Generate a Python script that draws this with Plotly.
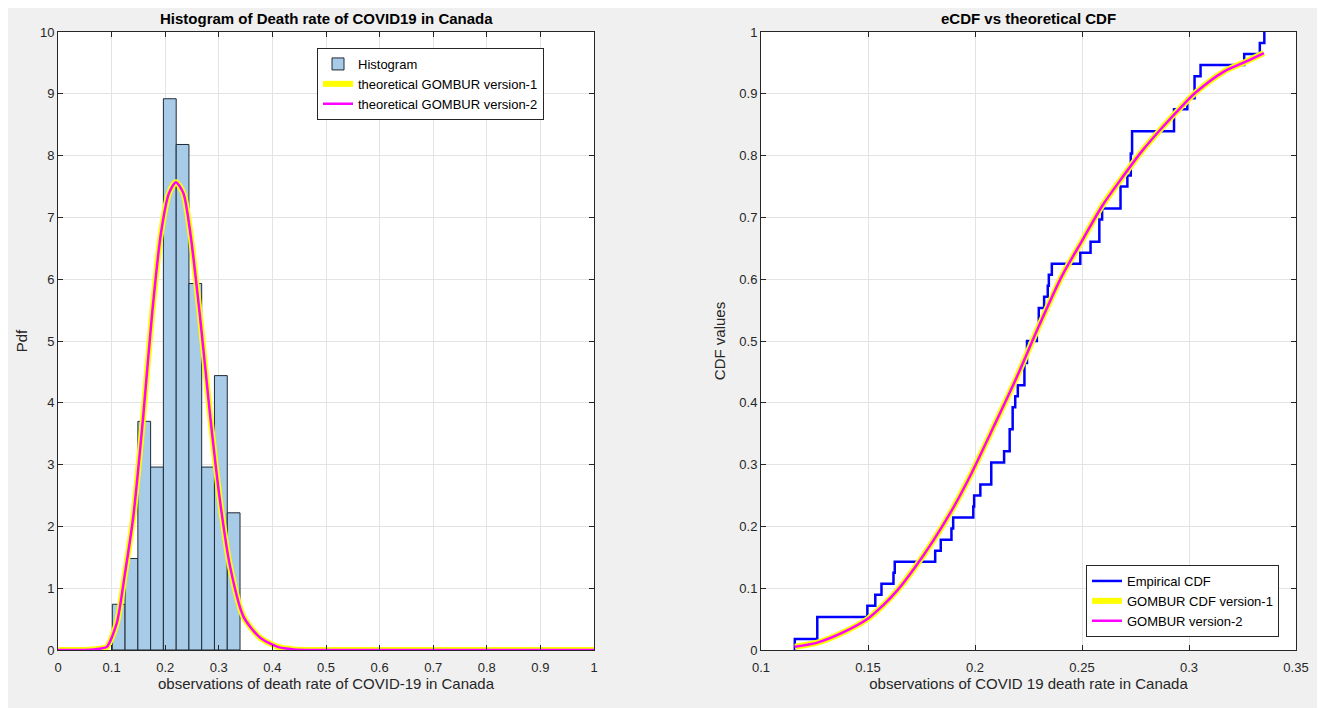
import plotly.graph_objects as go

# ---------------- data ----------------
# Histogram (pdf-normalised) of death rate
bin_edges = [0.1013, 0.1251, 0.1490, 0.1728, 0.1966, 0.2205, 0.2443, 0.2681, 0.2919, 0.3158, 0.3396]
bin_heights = [0.74, 1.48, 3.70, 2.96, 8.92, 8.18, 5.93, 2.96, 4.44, 2.22]

# theoretical pdf curve
pdf_x = [0.0, 0.05, 0.078, 0.091, 0.1095, 0.125, 0.1405, 0.159, 0.175, 0.192, 0.207,
         0.220, 0.234, 0.247, 0.265, 0.284, 0.302, 0.321, 0.346, 0.377, 0.41, 0.44, 0.48, 0.6, 0.8, 1.0]
pdf_y = [0.0, 0.0, 0.02, 0.05, 0.43, 1.24, 2.16, 3.78, 5.39, 6.74, 7.39,
         7.57, 7.39, 6.74, 5.39, 3.78, 2.43, 1.35, 0.54, 0.20, 0.05, 0.01, 0.0, 0.0, 0.0, 0.0]

# empirical CDF step points (x, y after jump)
ecdf_x = [0.1158, 0.1158, 0.1263, 0.1497, 0.1534, 0.1563, 0.1619, 0.1625, 0.1814, 0.1840,
          0.1890, 0.1898, 0.1992, 0.1996, 0.2025, 0.2076, 0.2136, 0.2162, 0.2176, 0.2188,
          0.2200, 0.2231, 0.2243, 0.2289, 0.2298, 0.2323, 0.2340, 0.2345, 0.2359, 0.2492,
          0.2540, 0.2581, 0.2594, 0.2680, 0.2712, 0.2728, 0.2734, 0.2930, 0.2992, 0.3026,
          0.3054, 0.3258, 0.3331, 0.3352]
ecdf_y = [0.0, 0.0179, 0.0536, 0.0714, 0.0893, 0.1071, 0.1250, 0.1429, 0.1607, 0.1786,
          0.1964, 0.2143, 0.2321, 0.2500, 0.2679, 0.3036, 0.3214, 0.3571, 0.3929, 0.4107,
          0.4286, 0.4643, 0.5000, 0.5179, 0.5536, 0.5714, 0.5893, 0.6071, 0.6250, 0.6429,
          0.6607, 0.6964, 0.7143, 0.7500, 0.7679, 0.8036, 0.8393, 0.8750, 0.8929, 0.9286,
          0.9464, 0.9643, 0.9821, 1.0000]

# theoretical CDF curve
cdf_x = [0.1158, 0.1263, 0.1381, 0.1497, 0.1568, 0.1636, 0.1720, 0.1805, 0.1890, 0.1975,
         0.2088, 0.2197, 0.2297, 0.2406, 0.2500, 0.2594, 0.2688, 0.2781, 0.2875, 0.2969,
         0.3031, 0.3163, 0.3265, 0.3350]
cdf_y = [0.0054, 0.012, 0.028, 0.050, 0.0715, 0.096, 0.134, 0.177, 0.225, 0.280,
         0.362, 0.443, 0.523, 0.605, 0.662, 0.7185, 0.7645, 0.8076, 0.8455, 0.8806,
         0.902, 0.936, 0.952, 0.966]

left_xticks = [0, 0.1, 0.2, 0.3, 0.4, 0.5, 0.6, 0.7, 0.8, 0.9, 1]
left_yticks = list(range(0, 11))
right_xticks = [0.1, 0.15, 0.2, 0.25, 0.3, 0.35]
right_yticks = [0, 0.1, 0.2, 0.3, 0.4, 0.5, 0.6, 0.7, 0.8, 0.9, 1]

# ---------------- figure ----------------
FONT = "Liberation Sans, Arial, sans-serif"
TXT = "#262626"
GRID = "#e3e3e3"

bin_centers = [(a + b) / 2 for a, b in zip(bin_edges[:-1], bin_edges[1:])]
bin_widths = [b - a for a, b in zip(bin_edges[:-1], bin_edges[1:])]

fig = go.Figure()

fig.add_trace(go.Bar(
    x=bin_centers, y=bin_heights, width=bin_widths, name="Histogram",
    marker=dict(color="#a8cce8", line=dict(color="#1f2a36", width=1)),
    xaxis="x", yaxis="y", legend="legend",
))
fig.add_trace(go.Scatter(
    x=pdf_x, y=pdf_y, mode="lines", name="theoretical GOMBUR version-1",
    line=dict(color="#ffff00", width=6, shape="spline", smoothing=0.7),
    xaxis="x", yaxis="y", legend="legend",
))
fig.add_trace(go.Scatter(
    x=pdf_x, y=pdf_y, mode="lines", name="theoretical GOMBUR version-2",
    line=dict(color="#ff00ff", width=2.5, shape="spline", smoothing=0.7),
    xaxis="x", yaxis="y", legend="legend",
))

fig.add_trace(go.Scatter(
    x=ecdf_x, y=ecdf_y, mode="lines", name="Empirical CDF",
    line=dict(color="#0000ff", width=2.5, shape="hv"),
    xaxis="x2", yaxis="y2", legend="legend2",
))
fig.add_trace(go.Scatter(
    x=cdf_x, y=cdf_y, mode="lines", name="GOMBUR CDF version-1",
    line=dict(color="#ffff00", width=6, shape="spline", smoothing=0.8),
    xaxis="x2", yaxis="y2", legend="legend2",
))
fig.add_trace(go.Scatter(
    x=cdf_x, y=cdf_y, mode="lines", name="GOMBUR version-2",
    line=dict(color="#ff00ff", width=2.5, shape="spline", smoothing=0.8),
    xaxis="x2", yaxis="y2", legend="legend2",
))

W, H = 1325, 708
OFF = 8  # page body margin offset


def px_x(p):
    return (p - OFF) / W


def px_y(p):
    return 1 - (p - OFF) / H


ydom = [px_y(650), px_y(32)]

axis_common = dict(
    showgrid=True, gridcolor=GRID, gridwidth=1,
    showline=True, linecolor=TXT, linewidth=1, mirror="ticks",
    ticks="inside", ticklen=5, tickcolor=TXT,
    tickfont=dict(family=FONT, size=13, color=TXT),
    zeroline=False, automargin=False,
)

fig.update_layout(
    width=W, height=H,
    margin=dict(l=0, r=0, t=0, b=0),
    paper_bgcolor="#f0f0f0", plot_bgcolor="#ffffff",
    font=dict(family=FONT, color=TXT),
    barmode="overlay",
    xaxis=dict(axis_common, domain=[px_x(58), px_x(594)], range=[0, 1],
               tickvals=left_xticks, ticktext=[f"{v:g}" for v in left_xticks],
               anchor="y", ticklabelstandoff=5,
               title=dict(text="observations of death rate of COVID-19 in Canada",
                          font=dict(family=FONT, size=15, color=TXT), standoff=3)),
    yaxis=dict(axis_common, domain=ydom, range=[0, 10],
               tickvals=left_yticks, ticktext=[str(v) for v in left_yticks],
               anchor="x",
               title=dict(text="Pdf", font=dict(family=FONT, size=15, color=TXT), standoff=8)),
    xaxis2=dict(axis_common, domain=[px_x(761), px_x(1296)], range=[0.1, 0.35],
                tickvals=right_xticks, ticktext=[f"{v:g}" for v in right_xticks],
                anchor="y2", ticklabelstandoff=5,
                title=dict(text="observations of COVID 19 death rate in Canada",
                           font=dict(family=FONT, size=15, color=TXT), standoff=3)),
    yaxis2=dict(axis_common, domain=ydom, range=[0, 1],
                tickvals=right_yticks, ticktext=[f"{v:g}" for v in right_yticks],
                anchor="x2",
                title=dict(text="CDF values", font=dict(family=FONT, size=15, color=TXT), standoff=10)),
    legend=dict(x=px_x(317), y=px_y(48), xanchor="left", yanchor="top",
                bgcolor="#ffffff", bordercolor=TXT, borderwidth=1,
                font=dict(family=FONT, size=13, color="#000000"),
                tracegroupgap=0),
    legend2=dict(x=px_x(1279), y=px_y(637), xanchor="right", yanchor="bottom",
                 bgcolor="#ffffff", bordercolor=TXT, borderwidth=1,
                 font=dict(family=FONT, size=13, color="#000000"),
                 tracegroupgap=0),
    showlegend=True,
    annotations=[
        dict(text="<b>Histogram of Death rate of COVID19 in Canada</b>", xref="paper", yref="paper",
             x=px_x((58 + 594) / 2), y=px_y(18), xanchor="center", yanchor="middle",
             showarrow=False, font=dict(family=FONT, size=15, color="#000000")),
        dict(text="<b>eCDF vs theoretical CDF</b>", xref="paper", yref="paper",
             x=px_x((761 + 1296) / 2), y=px_y(18), xanchor="center", yanchor="middle",
             showarrow=False, font=dict(family=FONT, size=15, color="#000000")),
    ],
)

fig.write_html("out.html")
